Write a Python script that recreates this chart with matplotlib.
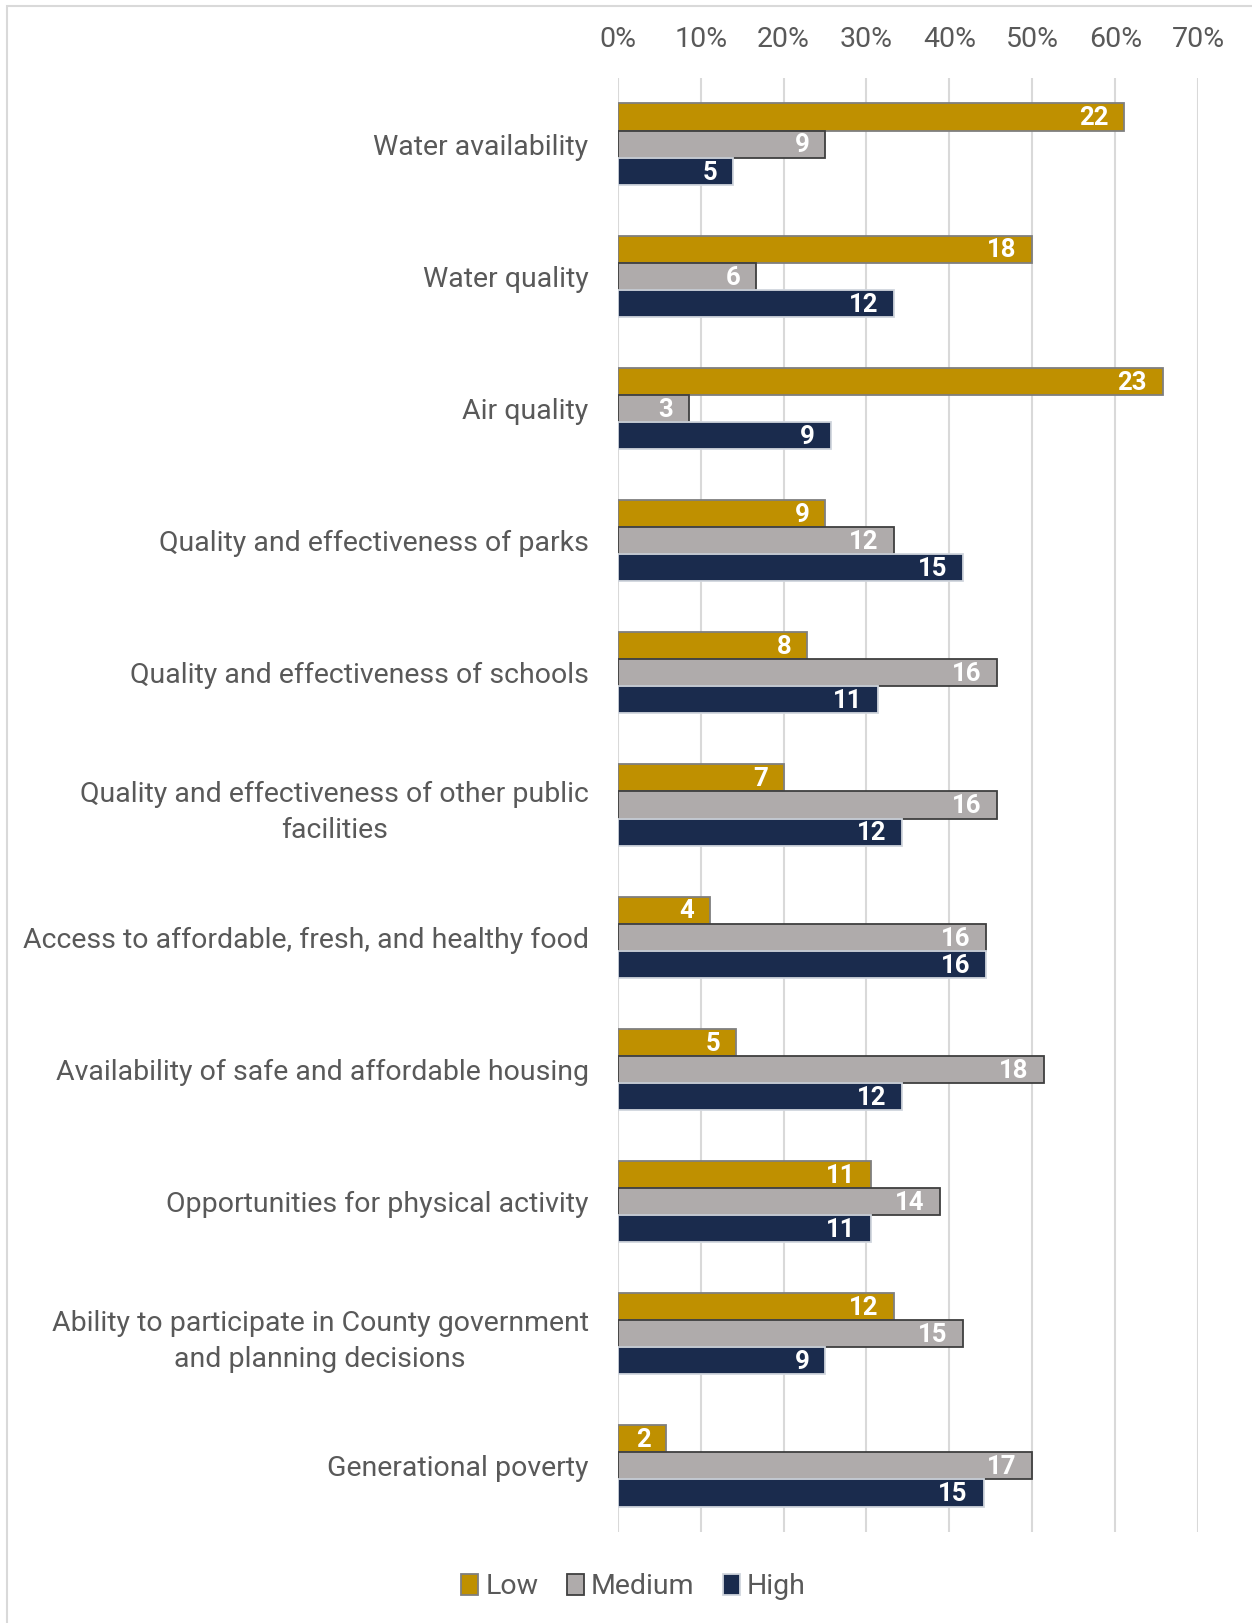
import matplotlib
matplotlib.use("Agg")
import matplotlib.pyplot as plt
import numpy as np
from matplotlib.patches import Rectangle, Patch
from matplotlib.ticker import FuncFormatter

categories = [
    "Water availability",
    "Water quality",
    "Air quality",
    "Quality and effectiveness of parks",
    "Quality and effectiveness of schools",
    "Quality and effectiveness of other public\nfacilities",
    "Access to affordable, fresh, and healthy food",
    "Availability of safe and affordable housing",
    "Opportunities for physical activity",
    "Ability to participate in County government\nand planning decisions",
    "Generational poverty",
]
low = [22, 18, 23, 9, 8, 7, 4, 5, 11, 12, 2]
medium = [9, 6, 3, 12, 16, 16, 16, 18, 14, 15, 17]
high = [5, 12, 9, 15, 11, 12, 16, 12, 11, 9, 15]
series_names = ["Low", "Medium", "High"]
x_ticks = [0, 0.1, 0.2, 0.3, 0.4, 0.5, 0.6, 0.7]

colors = ["#BF9000", "#AFABAB", "#1A2B4D"]
edges = ["#7F7F7F", "#3F3F3F", "#D0D5DD"]

W, H = 1252, 1623
fig = plt.figure(figsize=(W / 100, H / 100), dpi=100)
FONT = ["Roboto", "DejaVu Sans"]
FS = 20.5

# border
fig.patches.append(Rectangle((7 / W, -0.1), 2.0, 1 - 6 / H + 0.1, transform=fig.transFigure,
                             fill=False, edgecolor="#D9D9D9", linewidth=1.5))

ax = fig.add_axes([617.7 / W, 1 - 1532 / H, (1198.2 - 617.7) / W, (1532 - 78) / H])

counts = np.array([low, medium, high], dtype=float)
totals = counts.sum(axis=0)
shares = counts / totals

n = len(categories)
y = np.arange(n)
bh = 0.205
offsets = [-bh, 0, bh]
for i in range(3):
    bars = ax.barh(y + offsets[i], shares[i], height=bh, color=colors[i],
                   edgecolor=edges[i], linewidth=1.3, zorder=3, label=series_names[i])
    for j, b in enumerate(bars):
        ax.text(b.get_width() - 0.019, y[j] + offsets[i] + 0.01, f"{int(counts[i][j])}",
                ha="right", va="center", color="white", fontsize=18.5,
                fontweight="bold", family=FONT, zorder=4)

ax.set_xlim(0, 0.7)
ax.set_ylim(n - 0.5, -0.5)
ax.set_xticks(x_ticks)
ax.xaxis.set_major_formatter(FuncFormatter(lambda v, p: f"{v * 100:.0f}%"))
ax.xaxis.tick_top()
ax.tick_params(axis="x", length=0, pad=18, labelsize=FS, labelcolor="#595959")
ax.set_yticks(y)
ax.set_yticklabels(categories)
ax.tick_params(axis="y", length=0, pad=21, labelsize=FS, labelcolor="#595959")
for lab in ax.get_yticklabels() + ax.get_xticklabels():
    lab.set_family(FONT)
for lab in ax.get_yticklabels():
    lab.set_multialignment("center")
    lab.set_linespacing(1.45)
ax.grid(axis="x", color="#D9D9D9", linewidth=1.5, zorder=0)
ax.grid(axis="y", visible=False)
for s in ax.spines.values():
    s.set_visible(False)

handles = [Patch(facecolor=colors[i], edgecolor=edges[i], linewidth=1.3) for i in range(3)]
fig.legend(handles, series_names, loc="center", bbox_to_anchor=(0.506, 1 - 1587 / H),
           ncol=3, frameon=False, handlelength=0.6, handleheight=0.75, handletextpad=0.25,
           columnspacing=1.0, prop={"family": FONT, "size": FS}, labelcolor="#595959")

fig.savefig("out.png", dpi=100)
